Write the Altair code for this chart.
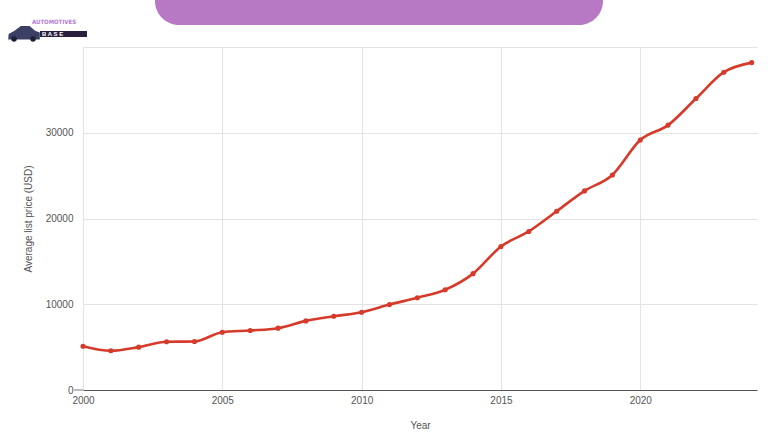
import altair as alt
import pandas as pd

years = list(range(2000, 2025))
prices = [5100, 4570, 5000, 5620, 5660, 6740, 6940, 7210, 8060, 8600, 9070, 9960,
          10760, 11690, 13570, 16740, 18490, 20850, 23220, 25080, 29150, 30890,
          33990, 37060, 38180]
x_ticks = [2000, 2005, 2010, 2015, 2020]
y_ticks = [0, 10000, 20000, 30000, 40000]

df = pd.DataFrame({"Year": years, "Price": prices})
one = pd.DataFrame({"a": [0]})

FONT = "Liberation Sans"
RED = "#d63a2a"

xenc = alt.X("Year:Q", scale=alt.Scale(domain=[2000, 2024.19], nice=False, zero=False),
             axis=alt.Axis(values=x_ticks, format="d", title="Year", grid=True,
                           gridColor="#e3e3e3", domainColor="#555", domainWidth=1.2,
                           ticks=False, labelPadding=5, titlePadding=15,
                           labelFontSize=10, titleFontSize=10, labelColor="#555",
                           titleColor="#555", labelFont=FONT, titleFont=FONT,
                           titleFontWeight="normal", labelFlush=False))
yenc = alt.Y("Price:Q", scale=alt.Scale(domain=[0, 40000], nice=False),
             axis=alt.Axis(values=y_ticks, title="Average list price (USD)", grid=True,
                           gridColor="#e3e3e3", domain=False, ticks=False,
                           labelExpr="datum.value >= 40000 ? '' : datum.value",
                           labelPadding=10, titlePadding=12, labelFontSize=10,
                           titleFontSize=10, labelColor="#555", titleColor="#555",
                           labelFont=FONT, titleFont=FONT, titleFontWeight="normal"))

line = alt.Chart(df).mark_line(interpolate="monotone", color=RED, strokeWidth=2.6).encode(x=xenc, y=yenc)
pts = alt.Chart(df).mark_point(filled=True, color=RED, size=26, opacity=1).encode(x="Year:Q", y="Price:Q")

# short extension of the baseline next to the "0" label
base_ext = alt.Chart(one).mark_rule(color="#777", strokeWidth=1).encode(
    x=alt.value(-9), x2=alt.value(0), y=alt.value(343))

# decorative banner at top
banner = alt.Chart(one).mark_rect(color="#b779c4", cornerRadiusBottomLeft=24,
                                  cornerRadiusBottomRight=24).encode(
    x=alt.value(72), x2=alt.value(520), y=alt.value(-80), y2=alt.value(-22))

# logo approximation
logo_bar = alt.Chart(one).mark_rect(color="#2a1f3d").encode(
    x=alt.value(-43), x2=alt.value(4), y=alt.value(-16), y2=alt.value(-10))
logo_text = alt.Chart(one).mark_text(text="AUTOMOTIVES", color="#b57ad6",
                                     font="DejaVu Sans Condensed, Liberation Sans",
                                     fontSize=6, fontWeight="bold", align="left",
                                     baseline="middle").encode(
    x=alt.value(-51), y=alt.value(-25))
logo_base = alt.Chart(one).mark_text(text="B A S E", color="#ffffff", font=FONT,
                                     fontSize=6, fontWeight="bold", align="left",
                                     baseline="middle").encode(
    x=alt.value(-41), y=alt.value(-13))
car = alt.Chart(one).mark_point(
    shape="M-1,0.35 L-0.97,0 L-0.6,-0.2 L-0.2,-0.5 L0.35,-0.5 L0.7,-0.2 L1,-0.1 L1,0.35 Z",
    filled=True, color="#3a3f63", size=1000, opacity=1).encode(
    x=alt.value(-59), y=alt.value(-13))
wheels = alt.Chart(pd.DataFrame({"w": [-69, -50]})).mark_point(
    filled=True, color="#1e2035", size=30, opacity=1).encode(
    x=alt.X("w:Q", scale=None), y=alt.value(-8))

chart = alt.layer(banner, line, pts, base_ext, logo_bar, logo_text, logo_base, car, wheels).properties(
    width=674, height=343,
    padding={"left": 83, "top": 47, "right": 23, "bottom": 50},
    autosize=alt.AutoSizeParams(type="none"),
    background="white",
).configure_view(stroke=None)

chart.save("out.html", embed_options={"renderer": "svg", "actions": False})
